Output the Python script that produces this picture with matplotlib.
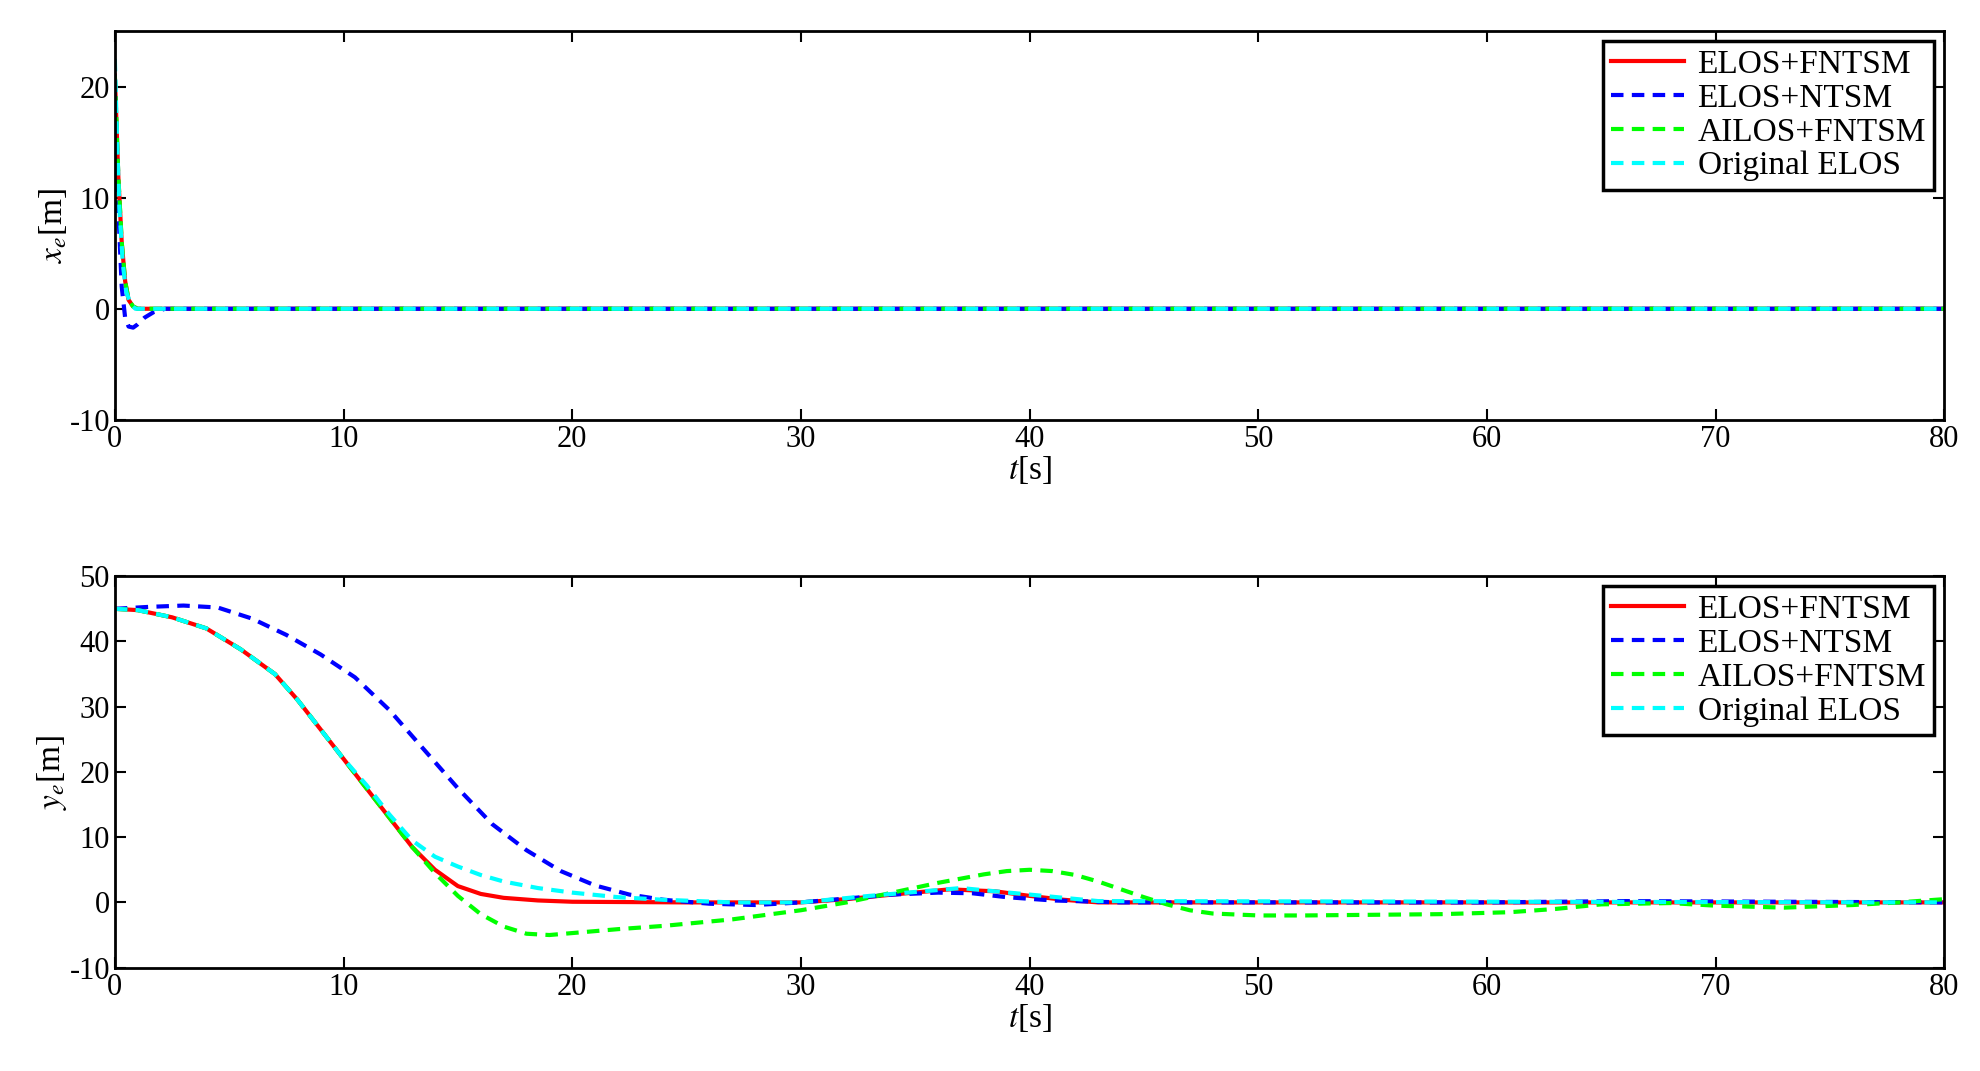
import matplotlib
matplotlib.use('Agg')
import matplotlib.pyplot as plt

plt.rcParams['font.family'] = ['Liberation Serif', 'DejaVu Serif']
plt.rcParams['mathtext.fontset'] = 'stix'
plt.rcParams['axes.unicode_minus'] = False

labels = ['ELOS+FNTSM', 'ELOS+NTSM', 'AILOS+FNTSM', 'Original ELOS']
colors = ['#ff0000', '#0000ff', '#00ff00', '#00ffff']
styles = ['-', '--', '--', '--']

# x_e traces
tx_red = [0, 0.15, 0.3, 0.45, 0.6, 0.8, 1.0, 80]
x_red = [21, 12, 6, 2.5, 0.8, 0.2, 0, 0]
tx_blue = [0, 0.15, 0.3, 0.45, 0.6, 0.8, 1.0, 1.3, 1.7, 2.2, 80]
x_blue = [21, 9, 2, -0.8, -1.6, -1.7, -1.4, -0.8, -0.3, 0, 0]
tx_green = [0, 0.15, 0.3, 0.45, 0.6, 0.8, 1.0, 80]
x_green = [21, 12, 6, 2.5, 0.8, 0.2, 0, 0]
tx_cyan = [0, 0.1, 0.2, 0.35, 0.5, 0.7, 0.9, 80]
x_cyan = [22.5, 15, 9, 4, 1.5, 0.4, 0, 0]

# y_e traces
ty_red = [0, 1, 2.5, 4, 5.5, 7, 8, 9, 10, 11, 12, 13, 14, 15, 16, 17, 18.5, 20, 25, 30,
          32, 34, 36.5, 38.5, 40, 41.5, 43, 80]
y_red = [45, 44.8, 43.7, 42, 38.8, 35, 31, 26.5, 22, 17.5, 13, 8.5, 5, 2.5, 1.3, 0.7, 0.3, 0.1, 0, 0,
         0.5, 1.2, 2, 1.7, 1, 0.4, 0, 0]
ty_blue = [0, 1.5, 3, 4.5, 6, 7.5, 9, 10.5, 12, 13.5, 15, 16.5, 18, 19.5, 21, 22.5, 24, 26, 28, 30,
           32, 34, 36, 37.5, 39, 41, 44, 60, 66, 80]
y_blue = [45, 45.3, 45.5, 45.2, 43.5, 41, 38, 34.5, 29.5, 23.5, 17.5, 12, 8, 4.8, 2.6, 1.2, 0.4, -0.2,
          -0.4, 0, 0.6, 1.2, 1.5, 1.4, 0.8, 0.3, 0, 0, 0.2, 0]
ty_green = [0, 1, 2.5, 4, 5.5, 7, 8, 9, 10, 11, 12, 13, 14, 15, 16, 17, 18, 19, 20, 22, 24, 27, 30,
            32, 34, 36, 38, 39, 40, 41, 42, 43, 44, 45, 46, 47, 48, 50, 52, 55, 58, 61, 63, 65,
            68, 70, 73, 76, 78, 80]
y_green = [45, 44.8, 43.7, 42, 38.8, 35, 31, 26.5, 22, 17.5, 13, 8.5, 4.5, 1, -1.8, -3.7, -4.8, -5, -4.7,
           -4.1, -3.6, -2.6, -1.2, 0, 1.5, 3, 4.3, 4.8, 5, 4.8, 4.2, 3.2, 2, 0.8, -0.3, -1.2, -1.7, -2,
           -2, -1.9, -1.8, -1.5, -1, -0.3, -0.1, -0.5, -0.8, -0.4, 0, 0.5]
ty_cyan = [0, 1, 2.5, 4, 5.5, 7, 8, 9, 10, 11, 12, 13, 14, 15, 16, 17, 18.5, 20, 22, 24, 27, 30,
           33, 37, 40, 43, 80]
y_cyan = [45, 44.8, 43.7, 42, 38.8, 35, 31, 26.5, 22, 18, 13.5, 9.5, 7, 5.5, 4.2, 3.2, 2.2, 1.5, 0.8,
          0.4, 0, 0, 1, 2.2, 1.2, 0.2, 0]

fig = plt.figure(figsize=(19.8, 10.71), dpi=100)
ax1 = fig.add_axes([0.058, 0.608, 0.924, 0.363])
ax2 = fig.add_axes([0.058, 0.0965, 0.924, 0.3655])

top = [(tx_red, x_red), (tx_blue, x_blue), (tx_green, x_green), (tx_cyan, x_cyan)]
bot = [(ty_red, y_red), (ty_blue, y_blue), (ty_green, y_green), (ty_cyan, y_cyan)]

for ax, series, ylab, ylim, yt in [
        (ax1, top, r'$x_e$[m]', (-10, 25), [-10, 0, 10, 20]),
        (ax2, bot, r'$y_e$[m]', (-10, 50), [-10, 0, 10, 20, 30, 40, 50])]:
    for (t, v), c, s, lab in zip(series, colors, styles, labels):
        if s == '--':
            ax.plot(t, v, color=c, lw=3, label=lab, linestyle='--', dashes=(3, 2))
        else:
            ax.plot(t, v, color=c, lw=3, label=lab)
    ax.set_xlim(0, 80)
    ax.set_ylim(*ylim)
    ax.set_yticks(yt)
    ax.set_xticks(range(0, 81, 10))
    ax.tick_params(direction='in', top=True, right=True, labelsize=22, length=8, width=1.5)
    for sp in ax.spines.values():
        sp.set_linewidth(2)
    ax.set_xlabel(r'$t$[s]', fontsize=24, labelpad=0)
    ax.set_ylabel(ylab, fontsize=24, labelpad=0)
    leg = ax.legend(loc='upper right', fontsize=24, fancybox=False, framealpha=1,
                    edgecolor='black', handlelength=2.2, borderaxespad=0.3,
                    labelspacing=0.1, handletextpad=0.4, borderpad=0.25)
    leg.get_frame().set_linewidth(2.5)

fig.savefig('out.png')
